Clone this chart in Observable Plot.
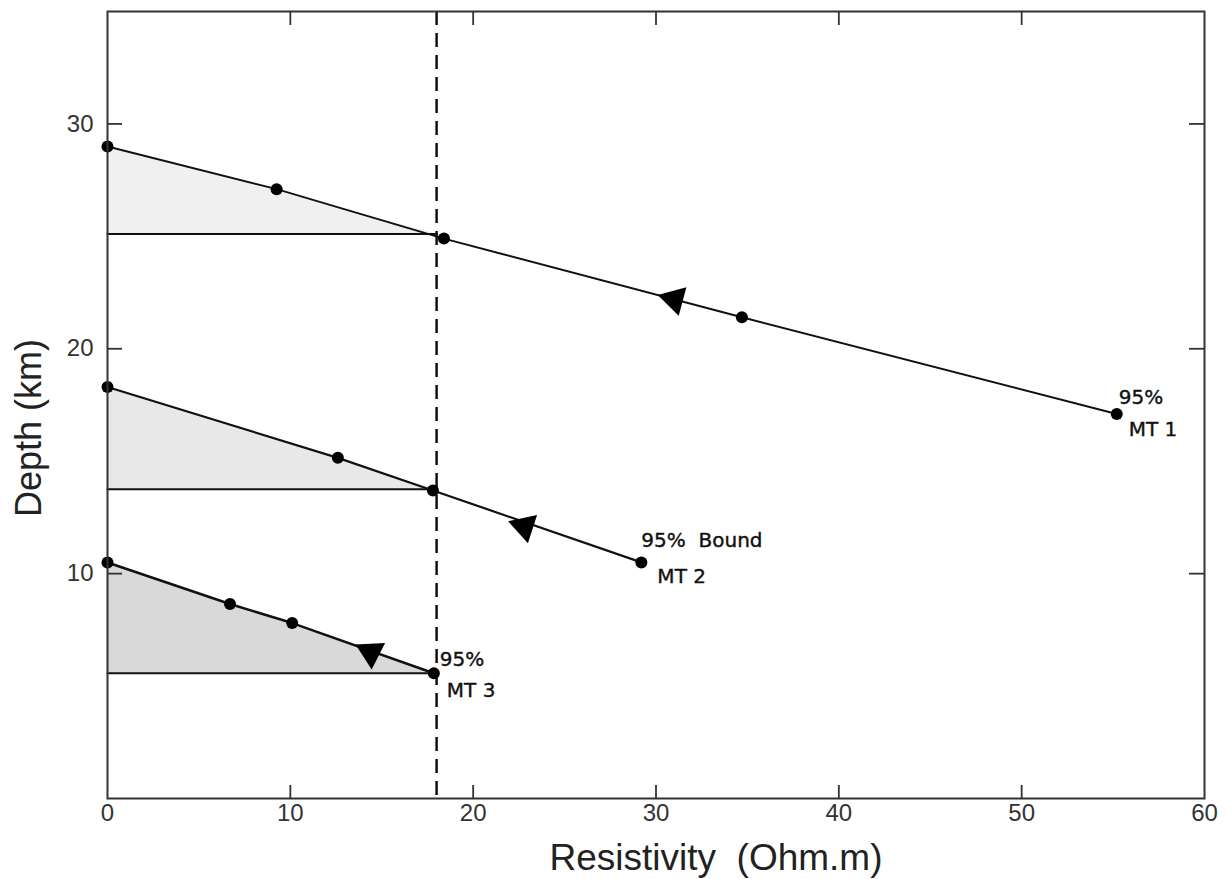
<!DOCTYPE html>
<html><head><meta charset="utf-8">
<script src="https://cdn.jsdelivr.net/npm/d3@7"></script>
<script src="https://cdn.jsdelivr.net/npm/@observablehq/plot@0.6"></script>
<style>body{margin:0;background:#fff}</style>
</head><body><div id="chart"></div>
<script>
// ---- data ----
const xTicks = [0, 10, 20, 30, 40, 50, 60];
const topTicks = [10, 20, 30, 40, 50];
const yTicks = [10, 20, 30];
const boundX = 18;

const mt1X = [0, 9.25, 18.4, 34.7, 55.2];
const mt1Y = [29.0, 27.1, 24.9, 21.4, 17.1];
const mt2X = [0, 12.6, 17.8, 29.2];
const mt2Y = [18.3, 15.15, 13.7, 10.5];
const mt3X = [0, 6.7, 10.1, 17.85];
const mt3Y = [10.5, 8.65, 7.8, 5.57];

const shadeX1 = [0, 18], shadeTop1 = [29.0, 25.1], shadeBase1 = 25.1;
const shadeX2 = [0, 17.8], shadeTop2 = [18.3, 13.75], shadeBase2 = 13.75;
const shadeX3 = [0, 17.85], shadeTop3 = [10.5, 5.57], shadeBase3 = 5.57;

const arrowX = [31.0, 22.8, 14.4];
const arrowY = [22.2, 12.1, 6.5];
const arrowDir = [-75, -72, 177];

const labelSeries = ["MT 1", "MT 2", "MT 3"];
const labelTop = ["95%", "95%\u00a0\u00a0Bound", "95%"];
const labelEndX = [55.2, 29.2, 17.85];
const labelEndY = [17.1, 10.5, 5.57];

const xLabel = "Resistivity  (Ohm.m)";
const yLabel = "Depth (km)";

// ---- build ----
const rows = (xs, ys) => xs.map((x, i) => ({x, y: ys[i]}));
const shade = (xs, tops, base) => xs.map((x, i) => ({x, top: tops[i], base}));
const ends = labelSeries.map((s, i) => ({x: labelEndX[i], y: labelEndY[i], top: labelTop[i], name: s}));

const W = 1227, H = 879;
const mL = 107, mR = 23, mT = 11, mB = 81;
const pw = W - mL - mR, ph = H - mT - mB;
const tickFont = "'Liberation Sans', sans-serif";
const lblFont = "'DejaVu Sans', 'Liberation Sans', sans-serif";

const labelMark = (i, which, dx, dy) => Plot.text([ends[i]], {
  x: "x", y: "y", text: which, dx, dy, textAnchor: "start",
  fontSize: 20, fill: "#111", stroke: "#111", strokeWidth: 0.4,
  fontFamily: lblFont
});
const arrowMark = (i) => Plot.dot([{x: arrowX[i], y: arrowY[i]}], {
  x: "x", y: "y", symbol: "triangle", r: 11, fill: "#000", rotate: arrowDir[i]
});

const chart = Plot.plot({
  width: W, height: H,
  marginLeft: mL, marginRight: mR, marginTop: mT, marginBottom: mB,
  style: {background: "#fff", fontFamily: tickFont},
  x: {domain: [0, 60]},
  y: {domain: [0, 35]},
  marks: [
    Plot.areaY(shade(shadeX1, shadeTop1, shadeBase1), {x: "x", y1: "base", y2: "top", fill: "#f0f0f0"}),
    Plot.areaY(shade(shadeX2, shadeTop2, shadeBase2), {x: "x", y1: "base", y2: "top", fill: "#e8e8e8"}),
    Plot.areaY(shade(shadeX3, shadeTop3, shadeBase3), {x: "x", y1: "base", y2: "top", fill: "#d9d9d9"}),
    Plot.line(shade(shadeX1, shadeTop1, shadeBase1), {x: "x", y: "base", stroke: "#111", strokeWidth: 2}),
    Plot.line(shade(shadeX2, shadeTop2, shadeBase2), {x: "x", y: "base", stroke: "#111", strokeWidth: 2}),
    Plot.line(shade(shadeX3, shadeTop3, shadeBase3), {x: "x", y: "base", stroke: "#111", strokeWidth: 2}),
    Plot.ruleX([boundX], {stroke: "#111", strokeWidth: 2.5, strokeDasharray: "14,8"}),
    Plot.line(rows(mt1X, mt1Y), {x: "x", y: "y", stroke: "#111", strokeWidth: 2}),
    Plot.line(rows(mt2X, mt2Y), {x: "x", y: "y", stroke: "#111", strokeWidth: 2.2}),
    Plot.line(rows(mt3X, mt3Y), {x: "x", y: "y", stroke: "#111", strokeWidth: 2.6}),
    Plot.dot(rows(mt1X, mt1Y), {x: "x", y: "y", r: 6, fill: "#000"}),
    Plot.dot(rows(mt2X, mt2Y), {x: "x", y: "y", r: 6, fill: "#000"}),
    Plot.dot(rows(mt3X, mt3Y), {x: "x", y: "y", r: 6, fill: "#000"}),
    arrowMark(0), arrowMark(1), arrowMark(2),
    labelMark(0, "top", 2, -16), labelMark(0, "name", 12, 16),
    labelMark(1, "top", 0, -22), labelMark(1, "name", 16, 14),
    labelMark(2, "top", 6, -14), labelMark(2, "name", 13, 17),
    // frame and inward ticks
    Plot.frame({stroke: "#333", strokeWidth: 2}),
    Plot.ruleX(xTicks.slice(1, -1), {stroke: "#333", strokeWidth: 1.8, insetTop: ph - 13}),
    Plot.ruleX(topTicks, {stroke: "#333", strokeWidth: 1.8, insetBottom: ph - 14}),
    Plot.ruleY(yTicks, {stroke: "#333", strokeWidth: 1.8, insetRight: pw - 15}),
    Plot.ruleY(yTicks, {stroke: "#333", strokeWidth: 1.8, insetLeft: pw - 15}),
    Plot.axisX(xTicks, {tickSize: 0, tickPadding: 5, fontSize: 24, fill: "#333", label: null}),
    Plot.axisY(yTicks, {tickSize: 0, tickPadding: 14, fontSize: 24, fill: "#333", label: null}),
    Plot.text([xLabel], {frameAnchor: "bottom", text: d => d, dy: 71, dx: 60, fontSize: 37, fill: "#222", fontFamily: "'Liberation Sans', sans-serif"}),
    Plot.text([yLabel], {frameAnchor: "left", textAnchor: "middle", text: d => d, dx: -78, dy: 23, rotate: -90, fontSize: 36, fill: "#222", fontFamily: "'Liberation Sans', sans-serif"})
  ]
});
document.getElementById("chart").appendChild(chart);
</script>
</body></html>
